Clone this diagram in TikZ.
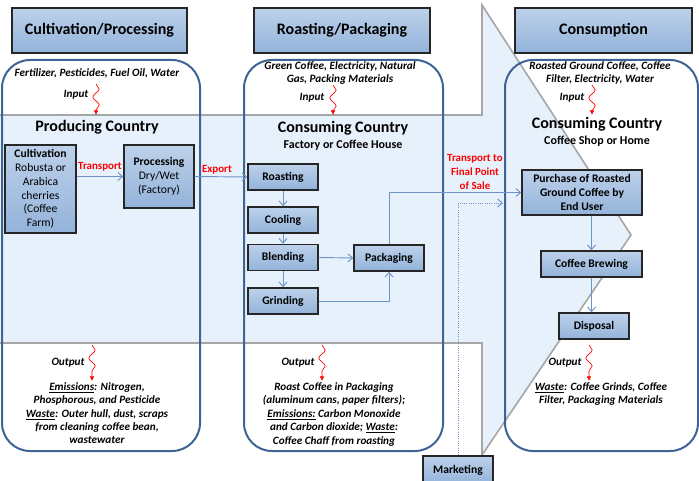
\documentclass[tikz,border=0pt]{standalone}
\usepackage{fontspec}
\setmainfont{Carlito}
\usetikzlibrary{arrows.meta,decorations.pathmorphing}
\definecolor{laneblue}{HTML}{3E6496}
\definecolor{flowblue}{HTML}{6C94C8}
\definecolor{boxtop}{HTML}{BDD1EA}
\definecolor{boxbot}{HTML}{93B3DA}
\definecolor{bgblue}{HTML}{E7F1FB}
\definecolor{edgegray}{HTML}{A6A6A6}

\begin{document}
\begin{tikzpicture}[x=0.75pt,y=0.75pt,yscale=-1,xscale=1,
  stagebox/.style={draw=black!85, line width=1.3pt, top color=boxtop, bottom color=boxbot, minimum height=33.75pt, inner sep=0pt, font=\fontsize{12}{14}\selectfont\bfseries},
  procbox/.style={draw=black!85, line width=1.1pt, top color=boxtop, bottom color=boxbot, minimum width=52.5pt, minimum height=19.5pt, inner sep=1pt, align=center, font=\fontsize{8.7}{10.3}\selectfont},
  lane/.style={draw=laneblue, line width=1.5pt, rounded corners=21pt},
  flow/.style={draw=flowblue, line width=0.7pt, -{Straight Barb[length=3.5pt,width=6pt]}},
  squig/.style={draw=red, line width=0.5pt, decorate, decoration={snake, amplitude=2.4pt, segment length=12pt, post length=3pt}, -{Latex[length=3.5pt,width=3.5pt]}},
  iotext/.style={inner sep=0pt, align=center, font=\fontsize{8.4}{10.1}\selectfont\bfseries\itshape},
  redlbl/.style={inner sep=0pt, align=center, text=red, font=\fontsize{8.2}{10.3}\selectfont\bfseries},
  country/.style={inner sep=0pt, font=\fontsize{12}{13}\selectfont\bfseries},
  place/.style={inner sep=0pt, font=\fontsize{9}{11}\selectfont\bfseries}]
\clip (0,0) rectangle (699,481);
\fill[white] (0,0) rectangle (699,481);

%Shape: Background arrow
\fill[bgblue] (0,115) -- (482,115) -- (482,5) -- (631,235) -- (482,455) -- (482,343) -- (0,343) -- cycle;
\draw[edgegray, line width=1.2pt] (0,115) -- (482,115) -- (482,5) -- (631,235) -- (482,455) -- (482,343) -- (0,343);

%Shape: Rounded lanes
\draw[lane] (2,60) rectangle (200,451);
\draw[lane] (244,60) rectangle (443,451);
\draw[lane] (505,60) rectangle (698,451);

% Stage titles
\node[stagebox, minimum width=131.25pt] (title1) at (99.5,30.5) {Cultivation/Processing};
\node[stagebox, minimum width=132pt] (title2) at (342,30.5) {Roasting/Packaging};
\node[stagebox, minimum width=132.75pt] (title3) at (603.5,30.5) {Consumption};

% Text Node
\node[iotext] (in1txt) at (97,73) {Fertilizer, Pesticides, Fuel Oil, Water};
\node[iotext] (in2txt) at (340,73) {Green Coffee, Electricity, Natural\\Gas, Packing Materials};
\node[iotext] (in3txt) at (600,73) {Roasted Ground Coffee, Coffee\\Filter, Electricity, Water};
\node[iotext] (in1lbl) at (76,95) {Input};
\node[iotext] (in2lbl) at (312,98) {Input};
\node[iotext] (in3lbl) at (572,98) {Input};

%Squiggles in
\coordinate (in1a) at (96,84);  \coordinate (in1b) at (96,115);
\coordinate (in2a) at (333,85); \coordinate (in2b) at (333,115);
\coordinate (in3a) at (592,85); \coordinate (in3b) at (592,115);
\draw[squig] (in1a) -- (in1b);
\draw[squig] (in2a) -- (in2b);
\draw[squig] (in3a) -- (in3b);

% Text Node
\node[country] (prodc) at (97,127) {Producing Country};
\node[country] (consc1) at (343,128) {Consuming Country};
\node[place] (factory) at (343,145) {Factory or Coffee House};
\node[country] (consc2) at (597,124) {Consuming Country};
\node[place] (shop) at (597,141) {Coffee Shop or Home};

% Process boxes
\node[procbox, minimum width=53.25pt, minimum height=66pt] (cult) at (40.5,189) {\textbf{Cultivation}\\Robusta or\\Arabica\\cherries\\(Coffee\\Farm)};
\node[procbox, minimum height=47.25pt] (proc) at (159,176.5) {\textbf{Processing}\\Dry/Wet\\(Factory)};
\node[procbox] (roast) at (283,177) {\textbf{Roasting}};
\node[procbox] (cool) at (283,220) {\textbf{Cooling}};
\node[procbox] (blend) at (283,257.5) {\textbf{Blending}};
\node[procbox] (grind) at (283,301) {\textbf{Grinding}};
\node[procbox] (pack) at (389,258) {\textbf{Packaging}};
\node[procbox, minimum width=90pt, minimum height=33.75pt] (purch) at (582,192.5) {\textbf{Purchase of Roasted}\\\textbf{Ground Coffee by}\\\textbf{End User}};
\node[procbox, minimum width=75.75pt] (brew) at (591.5,264) {\textbf{Coffee Brewing}};
\node[procbox] (disp) at (594,326) {\textbf{Disposal}};
\node[procbox, minimum height=21pt] (mkt) at (458,470) {\textbf{Marketing}};

% Red labels
\node[redlbl] (trlbl) at (100,167) {Transport};
\node[redlbl] (exlbl) at (217,170) {Export};
\node[redlbl] (salelbl) at (475,172) {Transport to\\Final Point\\of Sale};

%Straight Lines
\draw[flow] (cult.east |- proc.west) -- (proc.west);
\draw[flow] (proc.east) -- (roast.west);
\draw[flow] (roast.south) -- (cool.north);
\draw[flow] (cool.south) -- (blend.north);
\draw[flow] (blend.south) -- (grind.north);
\draw[flow] (blend.east) -- (pack.west);
\draw[flow] (grind.east) -| (pack.south);
\draw[flow] (pack.north) |- (purch.west);
\coordinate (mktend) at (503,203);
\draw[flow, densely dotted] (mkt.north) |- (mktend);
\draw[flow] (brew.north |- purch.south) -- (brew.north);
\draw[flow] (brew.south) -- (brew.south |- disp.north);

%Squiggles out
\coordinate (out1a) at (92,345);  \coordinate (out1b) at (92,381);
\coordinate (out2a) at (322,345); \coordinate (out2b) at (322,381);
\coordinate (out3a) at (589,345); \coordinate (out3b) at (589,381);
\draw[squig] (out1a) -- (out1b);
\draw[squig] (out2a) -- (out2b);
\draw[squig] (out3a) -- (out3b);

% Text Node
\node[iotext] (out1lbl) at (68,363) {Output};
\node[iotext] (out2lbl) at (298,363) {Output};
\node[iotext] (out3lbl) at (565,363) {Output};
\node[iotext, anchor=north] (out1txt) at (97,382) {\underline{Emissions}: Nitrogen,\\Phosphorous, and Pesticide\\\underline{Waste}: Outer hull, dust, scraps\\from cleaning coffee bean,\\wastewater};
\node[iotext, anchor=north] (out2txt) at (334,382) {Roast Coffee in Packaging\\(aluminum cans, paper filters);\\\underline{Emissions:} Carbon Monoxide\\and Carbon dioxide; \underline{Waste}:\\Coffee Chaff from roasting};
\node[iotext, anchor=north] (out3txt) at (601,382) {\underline{Waste}: Coffee Grinds, Coffee\\Filter, Packaging Materials};

\end{tikzpicture}
\end{document}
